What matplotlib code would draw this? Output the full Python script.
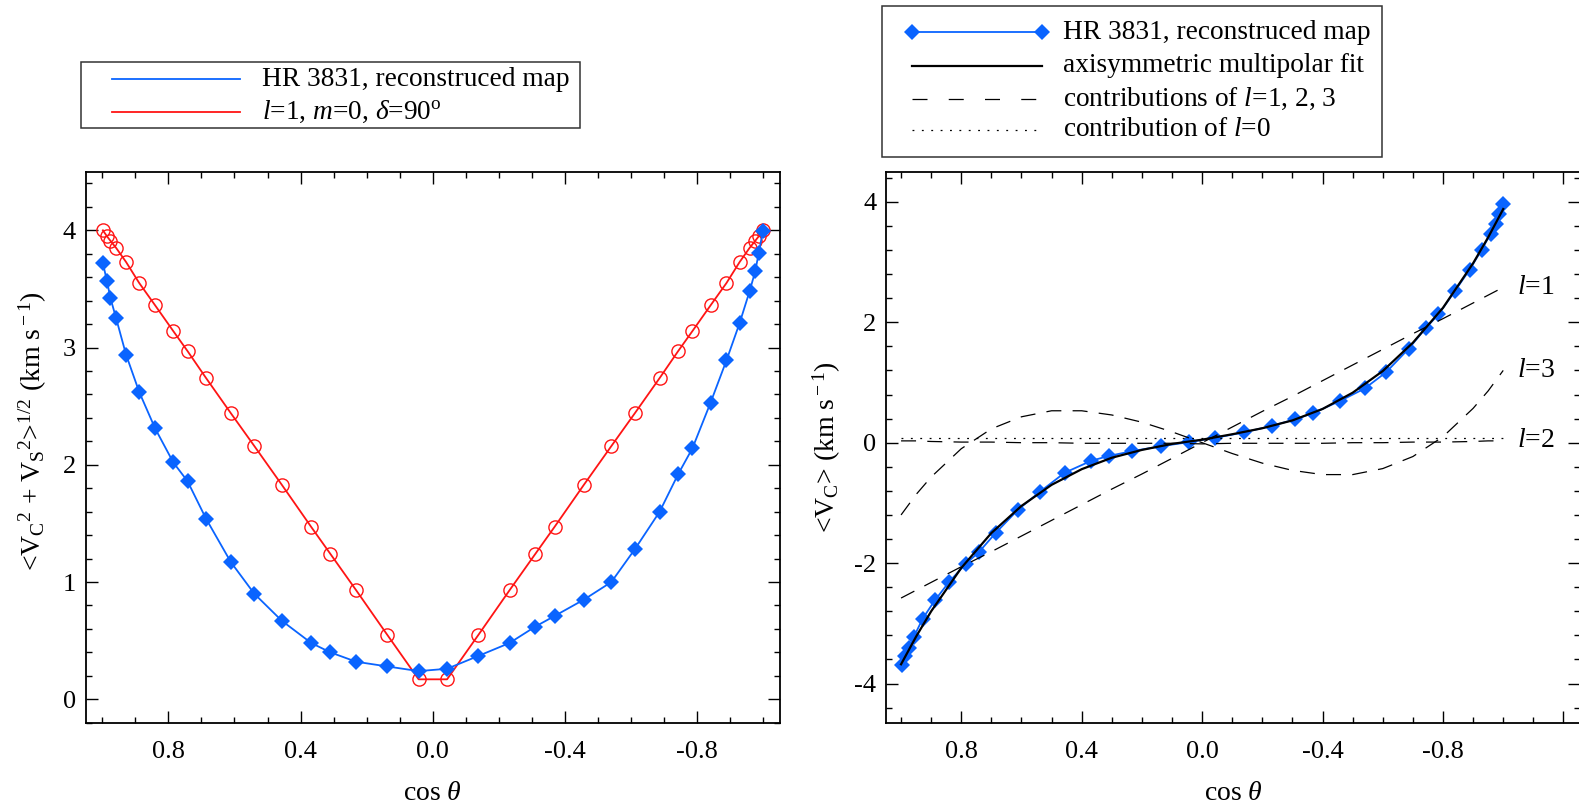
import matplotlib
matplotlib.use('Agg')
import matplotlib.pyplot as plt
from matplotlib.patches import Rectangle
from matplotlib.ticker import MultipleLocator, FixedFormatter

plt.rcParams['font.family'] = ['Liberation Serif', 'DejaVu Serif']
plt.rcParams['mathtext.fontset'] = 'custom'
plt.rcParams['mathtext.rm'] = 'Liberation Serif'
plt.rcParams['mathtext.it'] = 'Liberation Serif:italic'
plt.rcParams['mathtext.bf'] = 'Liberation Serif:bold'
plt.rcParams['axes.unicode_minus'] = False

BLUE = '#0a64ff'
RED = '#ff1414'

# latitude grid (cos theta) of the reconstructed map
cos_grid = [0.998, 0.986, 0.975, 0.958, 0.928, 0.888, 0.840, 0.785, 0.742,
            0.686, 0.611, 0.540, 0.457, 0.368, 0.310, 0.232, 0.138, 0.043,
            -0.043, -0.138, -0.232, -0.310, -0.368, -0.457, -0.540, -0.611,
            -0.686, -0.742, -0.785, -0.840, -0.888, -0.928, -0.958, -0.975,
            -0.986, -0.998]

# left panel: <Vc^2 + Vs^2>^1/2
v_total = [3.72, 3.57, 3.42, 3.25, 2.94, 2.62, 2.31, 2.02, 1.86, 1.54, 1.17,
           0.90, 0.67, 0.48, 0.40, 0.32, 0.28, 0.24, 0.26, 0.37, 0.48, 0.62,
           0.71, 0.85, 1.00, 1.28, 1.60, 1.92, 2.14, 2.53, 2.89, 3.21, 3.48,
           3.65, 3.81, 3.99]
v_dipole = [4.00, 3.95, 3.91, 3.85, 3.73, 3.55, 3.36, 3.14, 2.97, 2.74, 2.44,
            2.16, 1.83, 1.47, 1.24, 0.93, 0.55, 0.17, 0.17, 0.55, 0.93, 1.24,
            1.47, 1.83, 2.16, 2.44, 2.74, 2.97, 3.14, 3.36, 3.55, 3.73, 3.85,
            3.91, 3.95, 4.00]

# right panel: <Vc>
v_c = [-3.70, -3.55, -3.41, -3.23, -2.92, -2.62, -2.31, -2.01, -1.82, -1.50,
       -1.11, -0.82, -0.50, -0.30, -0.22, -0.14, -0.06, 0.01, 0.08, 0.17,
       0.28, 0.39, 0.49, 0.69, 0.90, 1.17, 1.56, 1.90, 2.13, 2.52, 2.87,
       3.20, 3.47, 3.63, 3.79, 3.96]

# multipolar fit and its parts, read at these cos theta
fit_x = [1.0, 0.95, 0.9, 0.8, 0.7, 0.6, 0.5, 0.4, 0.3, 0.2, 0.1, 0.0,
         -0.1, -0.2, -0.3, -0.4, -0.5, -0.6, -0.7, -0.8, -0.9, -0.95, -1.0]
fit_total = [-3.68, -3.22, -2.80, -2.08, -1.50, -1.05, -0.70, -0.44, -0.25,
             -0.12, -0.02, 0.05, 0.14, 0.24, 0.37, 0.56, 0.83, 1.19, 1.66,
             2.24, 2.98, 3.41, 3.88]
fit_l1 = [-2.58, -2.45, -2.32, -2.06, -1.81, -1.55, -1.29, -1.03, -0.77,
          -0.52, -0.26, 0.0, 0.26, 0.52, 0.77, 1.03, 1.29, 1.55, 1.81, 2.06,
          2.32, 2.45, 2.58]
fit_l2 = [0.03, 0.03, 0.02, 0.01, 0.01, 0.00, 0.00, -0.01, -0.01, -0.01,
          -0.01, -0.02, -0.01, -0.01, -0.01, -0.01, 0.00, 0.00, 0.01, 0.01,
          0.02, 0.03, 0.03]
fit_l3 = [-1.20, -0.86, -0.57, -0.10, 0.23, 0.43, 0.53, 0.53, 0.46, 0.34,
          0.18, 0.0, -0.18, -0.34, -0.46, -0.53, -0.53, -0.43, -0.23, 0.10,
          0.57, 0.86, 1.20]
l0_x = [1.0, -1.0]
fit_l0 = [0.07, 0.07]

xticks_left = [0.8, 0.4, 0.0, -0.4, -0.8]
xticks_right = [0.8, 0.4, 0.0, -0.4, -0.8, -1.2]
xlabels_right = ['0.8', '0.4', '0.0', '-0.4', '-0.8', '']
DASH = (12, 9)
DOT = (1.5, 6)

TICK_FS = 19
LAB_FS = 20
LEG_FS = 19.7
MS_D = 8

W, H = 1579, 805
fig = plt.figure(figsize=(W / 100, H / 100), dpi=100)


def px_axes(x0, y0, x1, y1):
    return fig.add_axes([x0 / W, 1 - y1 / H, (x1 - x0) / W, (y1 - y0) / H])


def style_axes(ax, ymajor, yminor):
    ax.xaxis.set_minor_locator(MultipleLocator(0.1))
    ax.yaxis.set_major_locator(MultipleLocator(ymajor))
    ax.yaxis.set_minor_locator(MultipleLocator(yminor))
    ax.yaxis.set_major_formatter(lambda v, pos: '%d' % round(v))
    ax.tick_params(which='both', direction='in', top=True, right=True,
                   width=1.0, labelsize=TICK_FS)
    ax.tick_params(which='major', length=8.5)
    ax.tick_params(which='minor', length=4)
    ax.tick_params(axis='x', pad=13)
    ax.tick_params(axis='y', pad=7)
    for sp in ax.spines.values():
        sp.set_linewidth(1.3)
    ax.set_xlabel(r'cos $\theta$', fontsize=LAB_FS, labelpad=13)


# left panel
ax1 = px_axes(85.7, 171.7, 780, 722.7)
ax1.plot(cos_grid, v_dipole, color=RED, lw=1.3, marker='o', ms=9.5,
         mfc='none', mec=RED, mew=1.0)
ax1.plot(cos_grid, v_total, color=BLUE, lw=1.3, marker='D', ms=MS_D,
         mec=BLUE, mew=0)
ax1.set_xlim(1.05, -1.05)
ax1.set_ylim(-0.2, 4.5)
ax1.set_xticks(xticks_left)
ax1.xaxis.set_major_formatter(lambda v, pos: '%.1f' % v)
style_axes(ax1, 1, 0.2)
ax1.set_ylabel(r'<V$_{\rm C}{}^{2}$ + V$_{\rm S}{}^{2}$>$^{1/2}$ (km s$^{\rm -1}$)',
               fontsize=LAB_FS)
ax1.yaxis.set_label_coords(-0.053, 0.53)

# right panel (its right edge runs to the border of the image)
ax2 = px_axes(886, 171.7, 1580, 722.7)
ax2.plot(cos_grid, v_c, color=BLUE, lw=1.3, marker='D', ms=MS_D,
         mec=BLUE, mew=0)
ax2.plot(fit_x, fit_total, color='black', lw=1.6)
for ys in (fit_l1, fit_l2, fit_l3):
    ax2.plot(fit_x, ys, color='black', lw=0.9, dashes=DASH)
ax2.plot(l0_x, fit_l0, color='black', lw=0.9, dashes=DOT)
for lab, ys in (('1', fit_l1), ('3', fit_l3), ('2', fit_l2)):
    ax2.text(-1.045, ys[-1], r'$l$=' + lab, fontsize=LAB_FS, ha='left',
             va='center')
ax2.set_xlim(1.05, -1.255)
ax2.set_ylim(-4.65, 4.5)
ax2.set_xticks(xticks_right)
ax2.xaxis.set_major_formatter(FixedFormatter(xlabels_right))
style_axes(ax2, 2, 0.4)
ax2.set_ylabel(r'<V$_{\rm C}$> (km s$^{\rm -1}$)', fontsize=LAB_FS,
               labelpad=8)

# legends drawn in pixel space on an overlay
ov = fig.add_axes([0, 0, 1, 1], zorder=5)
ov.set_xlim(0, W)
ov.set_ylim(H, 0)
ov.axis('off')


def legend_box(box, hx, tx, rows):
    x0, y0, x1, y1 = box
    ov.add_patch(Rectangle((x0, y0), x1 - x0, y1 - y0, fill=False,
                           ec='#333333', lw=1.1))
    for y, label, kw in rows:
        ov.plot(hx, [y, y], **kw)
        ov.text(tx, y, label, fontsize=LEG_FS, va='center', ha='left')


legend_box((80.5, 62, 580, 128), [112, 240], 262, [
    (79, 'HR 3831, reconstruced map', dict(color=BLUE, lw=1.3)),
    (112, r'$l$=1, $m$=0, $\delta$=90$^{\rm o}$', dict(color=RED, lw=1.3)),
])
legend_box((881.7, 6, 1381.7, 157.3), [911.7, 1041.7], 1063, [
    (32.3, 'HR 3831, reconstruced map',
     dict(color=BLUE, lw=1.3, marker='D', ms=MS_D, mew=0)),
    (65.7, 'axisymmetric multipolar fit', dict(color='black', lw=1.6)),
    (99, r'contributions of $l$=1, 2, 3',
     dict(color='black', lw=0.9, dashes=(12, 17))),
    (130, r'contribution of $l$=0', dict(color='black', lw=0.9, dashes=DOT)),
])

fig.savefig('out.png', dpi=100)
